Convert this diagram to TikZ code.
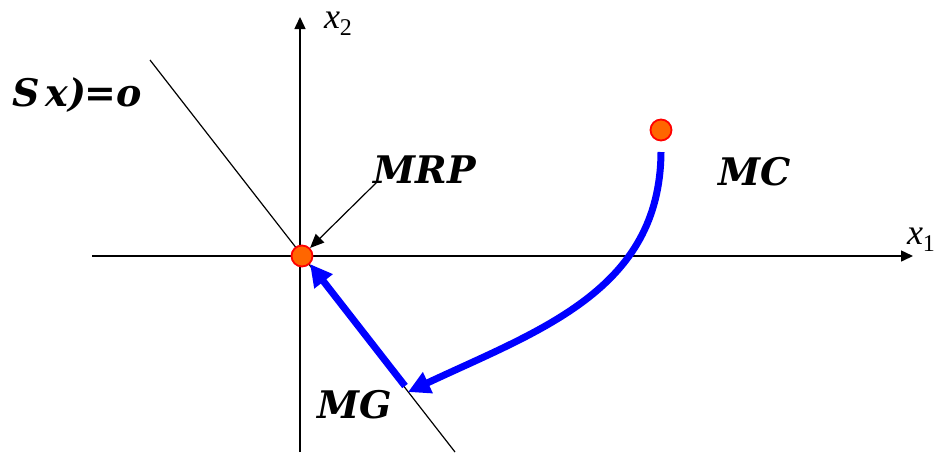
\documentclass[tikz,border=0pt]{standalone}
\usepackage{fontspec}
\setmainfont{DejaVu Serif}
\newfontfamily\axfont{Liberation Serif}
\usepackage{xcolor}
\usetikzlibrary{arrows.meta,positioning}
\definecolor{dotorange}{RGB}{255,102,0}
\definecolor{dotred}{RGB}{255,0,0}
\definecolor{pathblue}{RGB}{0,0,255}
\newcommand{\axlabel}[1]{\textit{x}\raisebox{-0.4ex}{\fontsize{12}{13}\selectfont #1}}

\begin{document}
\begin{tikzpicture}[
  x=0.5pt, y=-0.5pt,
  axis/.style={line width=0.75pt, -{Triangle[length=6pt,width=5.5pt]}},
  thin line/.style={line width=0.6pt},
  dot/.style={circle, draw=dotred, fill=dotorange, line width=0.9pt, minimum size=10.5pt, inner sep=0pt},
  move/.style={line width=3.5pt, draw=pathblue, -{Triangle[length=11pt,width=11pt]}},
  lbl/.style={font=\fontsize{19}{22}\selectfont\bfseries\itshape},
  ax/.style={font=\axfont\fontsize{18}{20}\selectfont, inner sep=1pt}
]
\useasboundingbox (0,0) rectangle (937,452);
% axes
\coordinate (xl) at (92,256);
\coordinate (xr) at (913,256);
\coordinate (yb) at (300,452);
\coordinate (yt) at (300,17);
\draw[axis] (xl) -- (xr);
\draw[axis] (yb) -- (yt);
\node[ax] (x1) at (921,240) {\axlabel{1}};
\node[ax] (x2) at (338,24) {\axlabel{2}};
% constraint line
\coordinate (sa) at (150,60);
\coordinate (sb) at (455,452);
\draw[thin line] (sa) -- (sb);
\node[lbl, anchor=west, inner xsep=0pt] (sx) at (12,95) {S\kern3pt x)\kern-1pt=o};
% points
\node[dot] (mrp) at (302,256) {};
\node[dot] (mc) at (661,130) {};
\coordinate (mcs) at (661,152);
\coordinate (mg) at (408,392);
\coordinate (mgs) at (405,386);
\node[lbl] (mrplbl) at (425,170) {MRP};
\node[lbl] (mclbl) at (755,172) {MC};
\node[lbl] (mglbl) at (355,405) {MG};
\draw[thin line, -{Triangle[length=7pt,width=6pt]}] (377,182) -- (mrp.north east);
% moves
\draw[move] (mcs) .. controls (660,290) and (540,330) .. (mg);
\draw[move] (mgs) -- (mrp.south east);
\end{tikzpicture}
\end{document}
